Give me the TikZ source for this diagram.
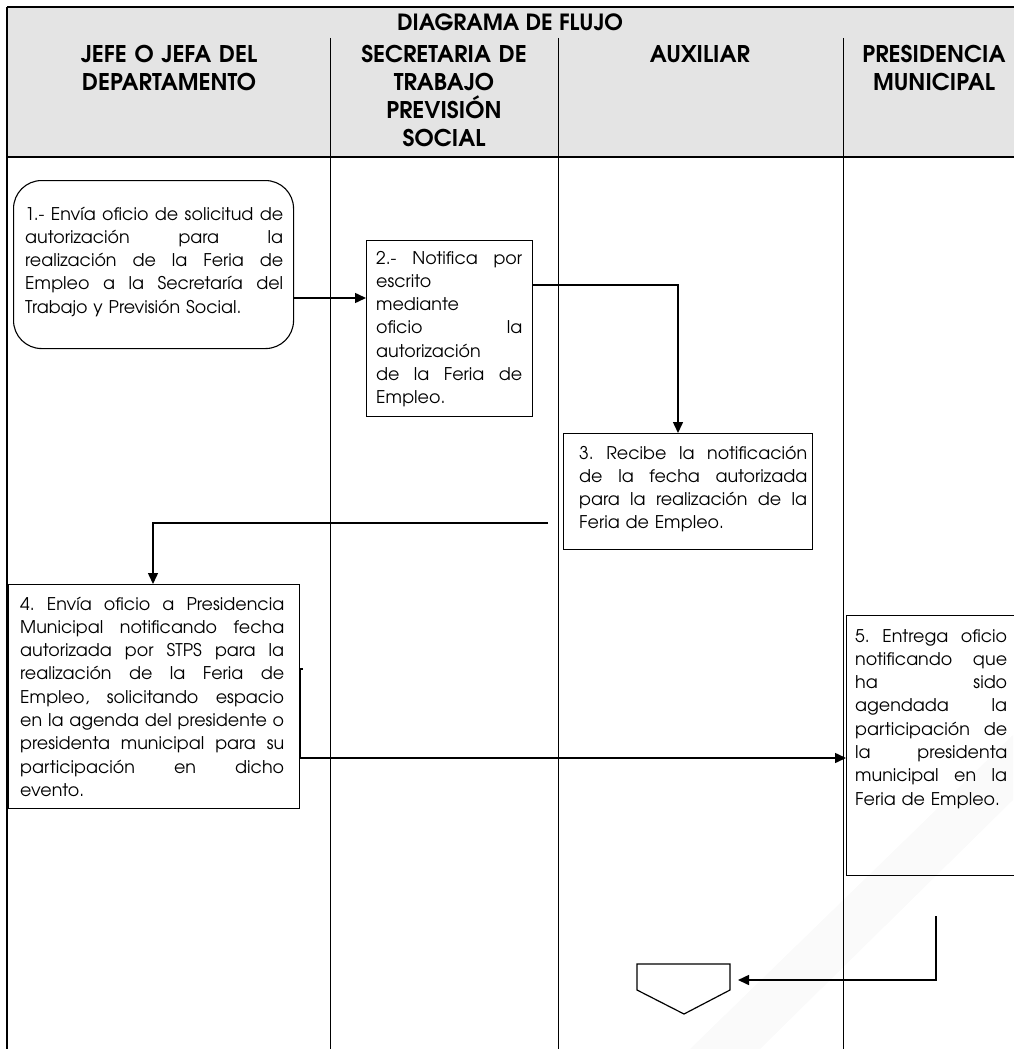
\documentclass[tikz,border=0pt]{standalone}
\usepackage{fontspec}
\IfFontExistsTF{TeX Gyre Adventor}{\setmainfont{TeX Gyre Adventor}}{\setmainfont{Poppins}}
\usetikzlibrary{arrows.meta,calc}
\definecolor{hdrgray}{RGB}{228,228,228}
\frenchspacing
\newcommand\jl[1]{{\spaceskip=0pt\xspaceskip=0pt\makebox[\hsize][s]{#1}}}
\newcommand\bodyfont{\fontsize{17.5}{23.3}\selectfont\frenchspacing}
\newcommand\hdrfont{\fontsize{23}{27.7}\selectfont\bfseries}
\newcommand\titlefont{\fontsize{22.3}{26}\selectfont\bfseries}
\begin{document}
\begin{tikzpicture}[x=1pt,y=-1pt,
  frame/.style={line width=1.5pt},
  lane/.style={line width=1pt},
  box/.style={draw, line width=1.1pt, anchor=north west, inner sep=0pt},
  txt/.style={anchor=base west, inner sep=0pt, font=\bodyfont, align=left},
  hdr/.style={anchor=base, inner sep=0pt, font=\hdrfont, align=center, text width=250pt},
  arr/.style={line width=1.5pt, -{Triangle[length=11pt,width=10pt]}},
  conn/.style={line width=1.5pt}
]
\useasboundingbox (0,0) rectangle (1013,1049);
% faint background sheen
\fill[black!2] (690,1049) -- (1013,735) -- (1013,800) -- (760,1049) -- cycle;
% header
\fill[hdrgray] (7,7) rectangle (1025,157);
\draw[frame] (7,7) -- (1025,7);
\draw[frame] (7,157) -- (1025,157);
\draw[frame] (7,7) -- (7,1049);
\draw[lane] (330,38) -- (330,1049);
\draw[lane] (558,38) -- (558,1049);
\draw[lane] (843,38) -- (843,1049);
\node[anchor=base, inner sep=0pt, font=\titlefont] (title) at (510,31) {DIAGRAMA DE FLUJO};
\node[hdr] (h1) at (169,63) {JEFE O JEFA DEL\\DEPARTAMENTO};
\node[hdr] (h2) at (444,63) {SECRETARIA DE\\TRABAJO\\PREVISIÓN\\SOCIAL};
\node[hdr] (h3) at (700,63) {AUXILIAR};
\node[hdr] (h4) at (934,63) {PRESIDENCIA\\MUNICIPAL};
% boxes
\node[box, rounded corners=28pt, minimum width=280pt, minimum height=168pt] (n1) at (13,180) {};
\node[box, minimum width=166pt, minimum height=176pt] (n2) at (366,240) {};
\node[box, minimum width=249pt, minimum height=116pt] (n3) at (563,433) {};
\node[box, minimum width=291pt, minimum height=224pt] (n4) at (8,584) {};
\node[box, minimum width=190pt, minimum height=260pt] (n5) at (846,615) {};
% texts
\node[txt, text width=258pt] (t1) at (25,220) {\jl{1.- Envía oficio de solicitud de}\\
\jl{autorización para la}\\
\jl{realización de la Feria de}\\
\jl{Empleo a la Secretaría del}\\
Trabajo y Previsión Social.};
\node[txt, text width=146pt] (t2) at (376,264) {\jl{2.- Notifica por}\\
escrito\\
mediante\\
\jl{oficio la}\\
autorización\\
\jl{de la Feria de}\\
Empleo.};
\node[txt, text width=228pt] (t3) at (579,459) {\jl{3. Recibe la notificación}\\
\jl{de la fecha autorizada}\\
\jl{para la realización de la}\\
Feria de Empleo.};
\node[txt, text width=264pt] (t4) at (20,610) {\jl{4. Envía oficio a Presidencia}\\
\jl{Municipal notificando fecha}\\
\jl{autorizada por STPS para la}\\
\jl{realización de la Feria de}\\
\jl{Empleo, solicitando espacio}\\
\jl{en la agenda del presidente o}\\
\jl{presidenta municipal para su}\\
\jl{participación en dicho}\\
evento.};
\node[txt, text width=152pt] (t5) at (855,642) {\jl{5. Entrega oficio}\\
\jl{notificando que}\\
\jl{ha sido}\\
\jl{agendada la}\\
\jl{participación de}\\
\jl{la presidenta}\\
\jl{municipal en la}\\
Feria de Empleo.};
% end connector (off-page)
\draw[line width=1.2pt, fill=white] (637,964) -- (730,964) -- (730,990) -- (684,1014) -- (637,990) -- cycle;
\coordinate (e) at (730,980);
% connectors
\coordinate (s34) at (548,523);
\coordinate (s45) at (303,669);
\coordinate (s5e) at (936,916);
\draw[arr] (n1.east |- 0,298) -- (n2.west |- 0,298);
\draw[arr] (n2.east |- 0,285) -| (678,0 |- n3.north);
\draw[arr] (s34) -| (153,0 |- n4.north);
\draw[conn] (s45) -- (n4.east |- s45) -- (n4.east |- 0,758);
\draw[arr] (n4.east |- 0,758) -- (n5.west |- 0,758);
\draw[arr] (s5e) |- ($(e)+(8,0)$);
\end{tikzpicture}
\end{document}
